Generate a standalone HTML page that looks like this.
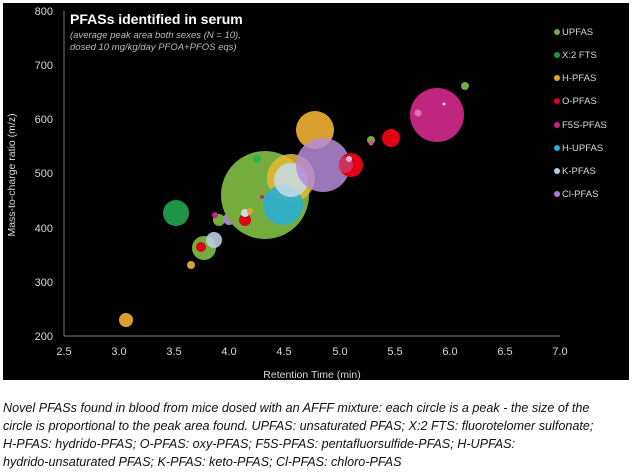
<!DOCTYPE html><html><head><style>body{margin:0;background:#fff;width:633px;height:475px;overflow:hidden}
.cap{position:absolute;left:3px;top:399px;width:640px;font:italic 12.6px "Liberation Sans",sans-serif;line-height:18px;color:#111;white-space:nowrap}</style></head><body>
<svg width="633" height="390" style="position:absolute;left:0;top:0" font-family="Liberation Sans, sans-serif">
<rect x="3" y="3" width="626" height="377" fill="#000"/>
<g stroke="#777" stroke-width="1"><line x1="64" y1="11" x2="64" y2="336"/><line x1="64" y1="336" x2="560" y2="336"/></g>
<g fill="#d9d9d9" font-size="11" text-anchor="end">
<text x="53" y="15">800</text><text x="53" y="69">700</text><text x="53" y="123">600</text><text x="53" y="177">500</text><text x="53" y="232">400</text><text x="53" y="286">300</text><text x="53" y="340">200</text></g>
<g fill="#d9d9d9" font-size="11" text-anchor="middle">
<text x="64" y="355">2.5</text><text x="119" y="355">3.0</text><text x="174" y="355">3.5</text><text x="229" y="355">4.0</text><text x="284" y="355">4.5</text><text x="340" y="355">5.0</text><text x="395" y="355">5.5</text><text x="450" y="355">6.0</text><text x="505" y="355">6.5</text><text x="560" y="355">7.0</text>
<text x="312" y="378" font-size="10.5">Retention Time (min)</text>
<text transform="translate(15,175) rotate(-90)" font-size="10.5">Mass-to-charge ratio (m/z)</text></g>
<text x="70" y="24" fill="#fff" font-size="14" font-weight="bold">PFASs identified in serum</text>
<text x="70" y="38" fill="#bbb" font-size="9.5" font-style="italic">(average peak area both sexes (N = 10),</text>
<text x="70" y="50" fill="#bbb" font-size="9.5" font-style="italic">dosed 10 mg/kg/day PFOA+PFOS eqs)</text>
<g>
<circle cx="126" cy="320" r="7" fill="#d9a030"/>
<circle cx="191" cy="265" r="4" fill="#d9a030"/>
<circle cx="204" cy="248" r="12" fill="#74ad3e"/>
<circle cx="201" cy="247" r="5" fill="#e00016"/>
<circle cx="214" cy="240" r="8" fill="#b8cde0" opacity=".9"/>
<circle cx="219" cy="220" r="6" fill="#74ad3e"/>
<circle cx="215" cy="215" r="3" fill="#c0267f"/>
<circle cx="229" cy="219" r="6" fill="#a780d0"/>
<circle cx="176" cy="213" r="13" fill="#1e9447"/>
<circle cx="265" cy="195" r="44" fill="#74ad3e"/>
<circle cx="257" cy="159" r="4" fill="#2db04e"/>
<circle cx="262" cy="197" r="2" fill="#c0267f"/>
<circle cx="245" cy="220" r="6" fill="#e00016"/>
<circle cx="245" cy="213" r="4" fill="#d0dce8"/>
<circle cx="250" cy="211" r="3" fill="#e0a52a"/>
<circle cx="315" cy="130" r="19" fill="#d9a030"/>
<circle cx="291" cy="178" r="24" fill="#e8b830" opacity=".85"/>
<circle cx="283" cy="205" r="20" fill="#2aaed0" opacity=".9"/>
<circle cx="291" cy="180" r="17" fill="#c8dce8" opacity=".85"/>
<circle cx="323" cy="165" r="27" fill="#b48cd8" opacity=".85"/>
<circle cx="351" cy="165" r="12" fill="#e00016"/>
<circle cx="345" cy="165" r="8" fill="#c060a0" opacity=".5"/>
<circle cx="349" cy="159" r="3" fill="#d0b8e0"/>
<circle cx="371" cy="140" r="4" fill="#74ad3e"/>
<circle cx="371" cy="143" r="2.5" fill="#d0509a"/>
<circle cx="391" cy="138" r="9" fill="#e00016"/>
<circle cx="437" cy="115" r="27" fill="#c0267f"/>
<circle cx="418" cy="113" r="3.5" fill="#e070a8"/>
<circle cx="444" cy="104" r="1.5" fill="#e8d0e0"/>
<circle cx="465" cy="86" r="4" fill="#74ad3e"/>
</g>
<g font-size="9.5" fill="#d9d9d9">
<circle cx="557" cy="32" r="3" fill="#74ad3e"/><text x="562" y="35">UPFAS</text>
<circle cx="557" cy="55" r="3" fill="#1e9447"/><text x="562" y="58">X:2 FTS</text>
<circle cx="557" cy="78" r="3" fill="#e0a52a"/><text x="562" y="81">H-PFAS</text>
<circle cx="557" cy="101" r="3" fill="#e00016"/><text x="562" y="104">O-PFAS</text>
<circle cx="557" cy="125" r="3" fill="#c0267f"/><text x="562" y="128">F5S-PFAS</text>
<circle cx="557" cy="148" r="3" fill="#2aaee0"/><text x="562" y="151">H-UPFAS</text>
<circle cx="557" cy="171" r="3" fill="#b8cde0"/><text x="562" y="174">K-PFAS</text>
<circle cx="557" cy="194" r="3" fill="#a780d0"/><text x="562" y="197">Cl-PFAS</text>
</g></svg>
<div class="cap">Novel PFASs found in blood from mice dosed with an AFFF mixture: each circle is a peak - the size of the<br>circle is proportional to the peak area found. UPFAS: unsaturated PFAS; X:2 FTS: fluorotelomer sulfonate;<br>H-PFAS: hydrido-PFAS; O-PFAS: oxy-PFAS; F5S-PFAS: pentafluorsulfide-PFAS; H-UPFAS:<br>hydrido-unsaturated PFAS; K-PFAS: keto-PFAS; Cl-PFAS: chloro-PFAS</div>
</body></html>
